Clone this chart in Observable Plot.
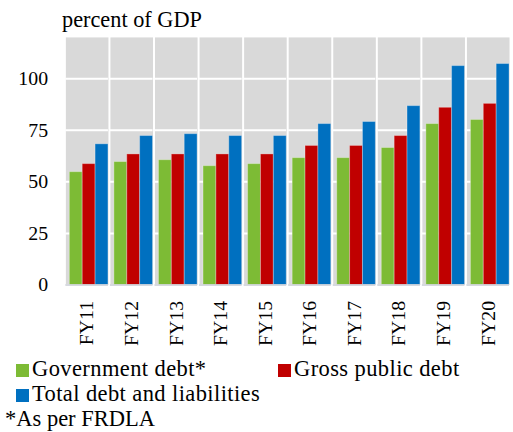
<!DOCTYPE html>
<html><head><meta charset="utf-8">
<script src="https://cdn.jsdelivr.net/npm/d3@7"></script>
<script src="https://cdn.jsdelivr.net/npm/@observablehq/plot@0.6"></script>
<style>
body{margin:0;background:#fff;overflow:hidden;font-family:"Liberation Serif",serif;color:#000}
#wrap{position:relative;width:513px;height:432px;overflow:hidden}
#title{position:absolute;left:62px;top:9px;font-size:22.3px;line-height:22.3px;white-space:nowrap}
#chart{position:absolute;left:0;top:30px}
.item{position:absolute;font-size:22.5px;line-height:22.5px;letter-spacing:0.4px;white-space:nowrap;display:flex;align-items:center}
.sw{display:inline-block;width:13px;height:13px;margin-right:3px;position:relative;top:1px}
#note{position:absolute;left:5px;top:407.5px;font-size:22.5px;line-height:22.5px;white-space:nowrap}
</style></head><body>
<div id="wrap"><div id="title">percent of GDP</div><div id="chart"></div><div id="legend"></div><div id="note">*As per FRDLA</div></div>
<script>
const years = ["FY11","FY12","FY13","FY14","FY15","FY16","FY17","FY18","FY19","FY20"];
const series = ["Government debt*","Gross public debt","Total debt and liabilities"];
const colors = ["#7dbb35","#c00000","#0070c0"];
const governmentDebt = [54.7,59.6,60.5,57.6,58.6,61.5,61.5,66.4,78.0,80.0];
const grossPublicDebt = [58.6,63.3,63.3,63.3,63.3,67.4,67.4,72.2,85.9,87.8];
const totalDebt = [68.2,72.2,73.1,72.2,72.2,78.0,79.0,86.7,106.1,107.1];
const yTicks = [0,25,50,75,100];

const seriesValues = [governmentDebt, grossPublicDebt, totalDebt];
const data = years.flatMap((y,i)=>series.map((s,j)=>({year:y, series:s, value:seriesValues[j][i]})));

const plot = Plot.plot({
  width:518, height:323, marginLeft:62, marginRight:0, marginTop:7, marginBottom:66,
  style:{fontFamily:"'Liberation Serif', serif", fontSize:"20px", color:"#000", background:"transparent", overflow:"visible"},
  fx:{domain:years, paddingInner:0.044, paddingOuter:0, label:null},
  x:{domain:series, paddingInner:0, paddingOuter:0.11, align:1, axis:null},
  y:{domain:[0,120], label:null},
  color:{domain:series, range:colors},
  marks:[
    Plot.frame({fill:"#d9d9d9", stroke:"none"}),
    Plot.gridY(yTicks, {stroke:"white", strokeOpacity:1, strokeWidth:2}),
    Plot.barY(data,{fx:"year", x:"series", y:"value", fill:"series", stroke:"white", strokeOpacity:0.3, strokeWidth:1}),
    Plot.ruleY([0],{stroke:"#c8ccd4", strokeWidth:1.5}),
    Plot.axisY(yTicks, {tickSize:0, tickPadding:18, label:null, fontSize:20}),
    Plot.axisFx({anchor:"bottom", tickRotate:-90, tickSize:0, tickPadding:16, label:null, fontSize:20})
  ]
});
document.getElementById("chart").appendChild(plot);

const legend = document.getElementById("legend");
const pos = [[16,358],[278,358],[16,383]];
series.forEach((s,i)=>{
  const d = document.createElement("div");
  d.className = "item";
  d.style.left = pos[i][0]+"px";
  d.style.top = pos[i][1]+"px";
  d.innerHTML = `<span class="sw" style="background:${colors[i]}"></span><span>${s}</span>`;
  legend.appendChild(d);
});
</script>
</body></html>
